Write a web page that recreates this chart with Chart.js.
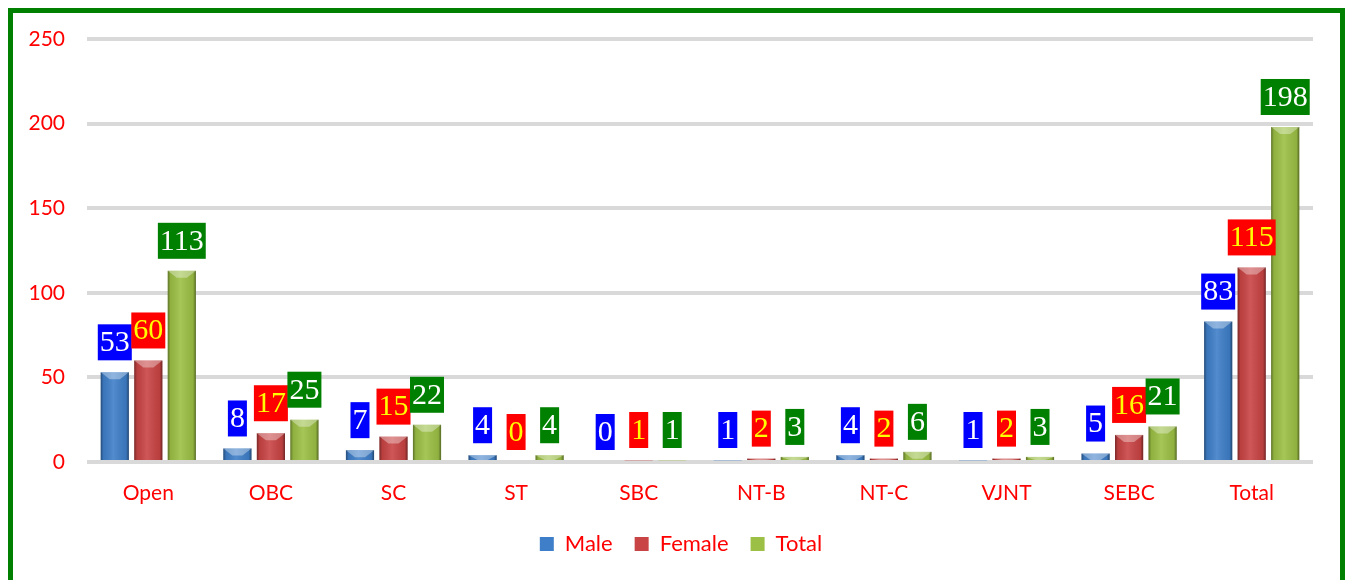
<!DOCTYPE html>
<html>
<head>
<meta charset="utf-8">
<script src="https://cdn.jsdelivr.net/npm/chart.js@4.4.1/dist/chart.umd.min.js"></script>
<style>
  html, body { margin: 0; padding: 0; background: #fff; overflow: hidden; }
  #frame {
    position: absolute;
    left: 8px;
    top: 8px;
    width: 1327px;
    height: 600px;
    border: 5px solid #008000;
  }
  canvas { display: block; }
</style>
</head>
<body>
<div id="frame"><canvas id="chart" width="1327" height="567"></canvas></div>
<script>
const categories = ["Open", "OBC", "SC", "ST", "SBC", "NT-B", "NT-C", "VJNT", "SEBC", "Total"];
const maleValues = [53, 8, 7, 4, 0, 1, 4, 1, 5, 83];
const femaleValues = [60, 17, 15, 0, 1, 2, 2, 2, 16, 115];
const totalValues = [113, 25, 22, 4, 1, 3, 6, 3, 21, 198];
const yTicks = [0, 50, 100, 150, 200, 250];

// label box colours per series: [box, text]
const labelColors = [
  ["#0000ff", "#ffffff"],
  ["#ff0000", "#ffff00"],
  ["#008000", "#ffffff"],
];

// fake the excel bevel look on top of the plain bars
const bevelPlugin = {
  id: "bevel",
  afterLayout(chart) {
    // legend in the original sits a bit right of centre
    chart.legend.left += 18;
    chart.legend.right += 18;
  },
  afterDatasetsDraw(chart) {
    const ctx = chart.ctx;
    chart.data.datasets.forEach((ds, i) => {
      const meta = chart.getDatasetMeta(i);
      meta.data.forEach((bar) => {
        const w = bar.width;
        const left = bar.x - w / 2;
        const top = Math.min(bar.y, bar.base);
        const h = Math.abs(bar.base - bar.y);
        if (h < 0.5) return;
        ctx.save();
        const g = ctx.createLinearGradient(left, 0, left + w, 0);
        g.addColorStop(0, "rgba(0,0,0,0.4)");
        g.addColorStop(0.1, "rgba(0,0,0,0.08)");
        g.addColorStop(0.45, "rgba(255,255,255,0.1)");
        g.addColorStop(0.9, "rgba(0,0,0,0.08)");
        g.addColorStop(1, "rgba(0,0,0,0.45)");
        ctx.fillStyle = g;
        ctx.fillRect(left, top, w, h);
        const bh = Math.min(7, h);
        ctx.beginPath();
        ctx.moveTo(left, top);
        ctx.lineTo(left + w, top);
        ctx.lineTo(left + w * 0.68, top + bh);
        ctx.lineTo(left + w * 0.32, top + bh);
        ctx.closePath();
        ctx.fillStyle = "rgba(255,255,255,0.35)";
        ctx.fill();
        ctx.restore();
      });
    });
  },
  afterDraw(chart) {
    const ctx = chart.ctx;
    ctx.save();
    ctx.font = "30px 'Liberation Serif'";
    ctx.textAlign = "center";
    ctx.textBaseline = "middle";
    chart.data.datasets.forEach((ds, i) => {
      const meta = chart.getDatasetMeta(i);
      meta.data.forEach((bar, j) => {
        const txt = String(ds.data[j]);
        const tw = ctx.measureText(txt).width;
        const bw = tw + 4;
        const bh = 36;
        const bottom = Math.min(bar.y, bar.base) - 12;
        ctx.fillStyle = labelColors[i][0];
        ctx.fillRect(bar.x - bw / 2, bottom - bh, bw, bh);
        ctx.fillStyle = labelColors[i][1];
        ctx.fillText(txt, bar.x, bottom - bh / 2 + 1);
      });
    });
    ctx.restore();
  },
};

new Chart(document.getElementById("chart"), {
  type: "bar",
  data: {
    labels: categories,
    datasets: [
      { label: "Male", data: maleValues, backgroundColor: "#3f7fc9" },
      { label: "Female", data: femaleValues, backgroundColor: "#c94444" },
      { label: "Total", data: totalValues, backgroundColor: "#9cc045" },
    ],
  },
  options: {
    responsive: false,
    animation: false,
    categoryPercentage: 0.82,
    barPercentage: 0.84,
    layout: { padding: { top: 26, right: 27, bottom: 15, left: 0 } },
    plugins: {
      tooltip: { enabled: false },
      legend: {
        position: "bottom",
        labels: {
          color: "#ff0000",
          font: { family: "Lato", size: 22 },
          boxWidth: 14,
          boxHeight: 14,
          padding: 22,
        },
      },
    },
    scales: {
      x: {
        grid: { display: false },
        border: { display: false },
        ticks: { color: "#ff0000", font: { family: "Lato", size: 21 }, padding: 11 },
        afterFit: (s) => { s.height = 49; },
      },
      y: {
        min: 0,
        max: 250,
        afterBuildTicks: (s) => { s.ticks = yTicks.map((v) => ({ value: v })); },
        grid: { color: "#d9d9d9", lineWidth: 4, drawTicks: false },
        border: { display: false },
        ticks: { color: "#ff0000", font: { family: "Lato", size: 21 }, padding: 22 },
        afterFit: (s) => {
          s.width = 74;
          s.paddingTop = 10;
          s.paddingBottom = 10;
        },
      },
    },
  },
  plugins: [bevelPlugin],
});
</script>
</body>
</html>
